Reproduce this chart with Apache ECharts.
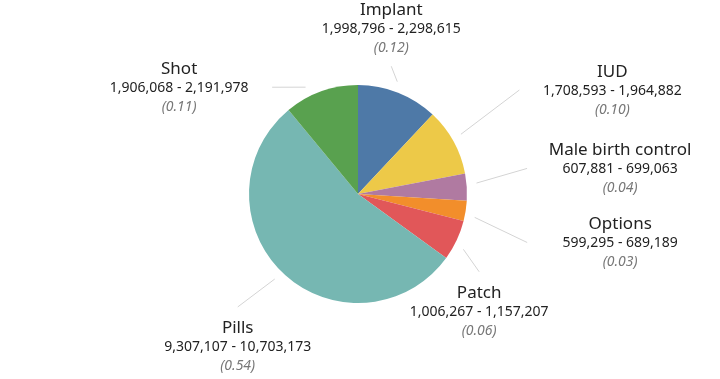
<!DOCTYPE html>
<html>
<head>
<meta charset="utf-8">
<script src="https://cdn.jsdelivr.net/npm/echarts@6/dist/echarts.min.js"></script>
<style>
	html, body { margin: 0; padding: 0; background: #fff; }
	#chart { width: 720px; height: 379px; }
</style>
</head>
<body>
<div id="chart"></div>
<script>
//////////// data ////////////
var names = ['Implant', 'IUD', 'Male birth control', 'Options', 'Patch', 'Pills', 'Shot'];
var lowVals = [1998796, 1708593, 607881, 599295, 1006267, 9307107, 1906068];
var highVals = [2298615, 1964882, 699063, 689189, 1157207, 10703173, 2191978];
var shares = [0.12, 0.10, 0.04, 0.03, 0.06, 0.54, 0.11];
var colors = ['#4e79a7', '#edc948', '#b07aa1', '#f28e2b', '#e15759', '#76b7b2', '#59a14f'];

// label placement: side of the text block, turn of the leader line (deg), reach from centre (px)
var labelSide = ['top', 'right', 'right', 'right', 'bottom', 'bottom', 'left'];
var labelTurn = [-7, -4, -5, 7, 7.5, 3.6, -19];
var labelReach = [132, 192, 171, 176, 144, 165, 137];

var pieCenter = [358, 194];
var pieRadius = 109;

//////////// chart ////////////
showPieChart();

function showPieChart() {
	var chart = echarts.init(document.getElementById('chart'));

	var pieData = [];
	for (var i = 0; i < names.length; i++) {
		pieData.push({
			name: names[i],
			value: shares[i],
			itemStyle: { color: colors[i] }
		});
	}

	// cumulative share before each slice
	var cum = [];
	var run = 0;
	for (var k = 0; k < shares.length; k++) {
		cum.push(run);
		run += shares[k];
	}

	function polar(deg, r) {
		var a = deg * Math.PI / 180;
		return [pieCenter[0] + r * Math.sin(a), pieCenter[1] - r * Math.cos(a)];
	}

	var option = {
		animation: false,
		textStyle: { fontFamily: '"Noto Sans", sans-serif' },
		series: [{
			type: 'pie',
			center: pieCenter,
			radius: pieRadius,
			startAngle: 90,
			clockwise: true,
			avoidLabelOverlap: false,
			itemStyle: { borderWidth: 0 },
			emphasis: { scale: false },
			data: pieData,
			label: {
				show: true,
				position: 'outside',
				formatter: function(p) {
					var i = p.dataIndex;
					return '{n|' + names[i] + '}\n{v|' + numberWithCommas(lowVals[i]) + ' - '
						+ numberWithCommas(highVals[i]) + '}\n{p|(' + shares[i].toFixed(2) + ')}';
				},
				rich: {
					n: { fontSize: 17, color: '#222', lineHeight: 19, align: 'center', fontFamily: '"Noto Sans", sans-serif' },
					v: { fontSize: 14, color: '#222', lineHeight: 19, align: 'center', fontFamily: '"Noto Sans", sans-serif' },
					p: { fontSize: 14, color: '#777', fontStyle: 'italic', lineHeight: 19, align: 'center', fontFamily: '"Noto Sans", sans-serif' }
				}
			},
			labelLine: {
				show: true,
				lineStyle: { color: '#d4d4d4', width: 1 }
			},
			labelLayout: function(params) {
				var i = params.dataIndex;
				var mid = (cum[i] + shares[i] / 2) * 360;
				var inner = polar(mid + labelTurn[i] / 3, pieRadius + 10);
				var outer = polar(mid + labelTurn[i], labelReach[i]);
				var x = outer[0], y = outer[1];
				if (labelSide[i] == 'top') { y -= 37; }
				else if (labelSide[i] == 'bottom') { y += 40; }
				else if (labelSide[i] == 'right') { x += 93; y += 1; }
				else { x -= 93; y += 1; }
				return {
					x: x,
					y: y,
					align: 'center',
					verticalAlign: 'middle',
					labelLinePoints: [inner, outer]
				};
			}
		}]
	};

	chart.setOption(option);
}

//////////// util ////////////
function numberWithCommas(x) {
	return x.toString().replace(/\B(?=(\d{3})+(?!\d))/g, ",");
}
</script>
</body>
</html>
